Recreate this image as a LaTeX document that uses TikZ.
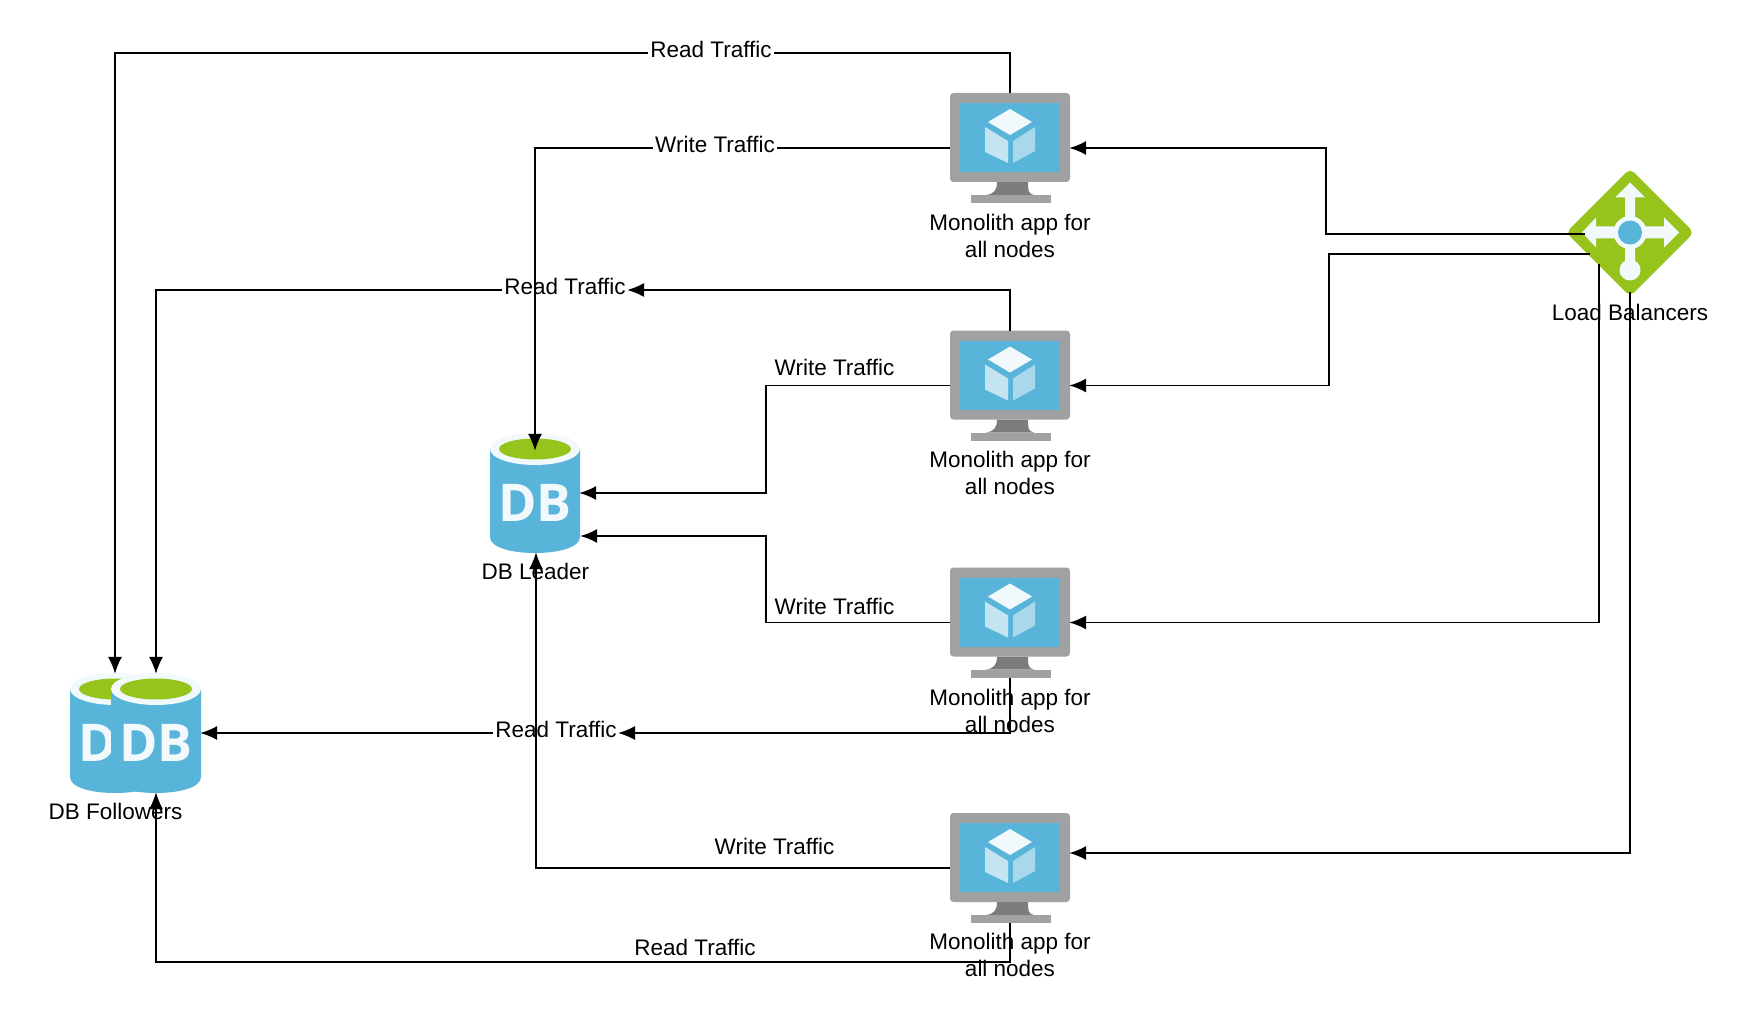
\documentclass[tikz,border=0pt]{standalone}
\usepackage{fontspec}
\setmainfont{Liberation Sans}
\newfontfamily\dbfont{Open Sans}
\usetikzlibrary{arrows.meta}
\definecolor{azblue}{HTML}{59B4D9}
\definecolor{azgreen}{HTML}{96C41C}
\definecolor{azgrey}{HTML}{A0A1A2}
\definecolor{azneck}{HTML}{7C7C7C}
\definecolor{azwhite}{HTML}{F2F9FC}
\definecolor{faceL}{HTML}{C5E4F1}
\definecolor{faceR}{HTML}{A9D8EB}
\tikzset{
  base/.style={font=\fontsize{32}{38.4}\selectfont},
  iconlabel/.style={base,align=center,inner sep=0pt},
  trafficlabel/.style={base,inner ysep=0pt,inner xsep=3pt,text height=25pt,text depth=12pt},
  whitelabel/.style={trafficlabel,fill=white},
  link/.style={draw=black,line width=2.2pt,line join=miter},
  flow/.style={link,-{Latex[length=24pt,width=20pt]},shorten >=-1pt},
  iconbox/.style={inner sep=0pt,outer sep=0pt},
}
\newcommand{\monitoricon}[2]{%
  \node[iconbox,minimum width=6cm,minimum height=5.5cm] (#1) at (#2) {};
  \begin{scope}[shift={(#1.center)}]
    \fill[azneck] (-13,34) .. controls (-13,42) and (-16,46) .. (-24,47) -- (24,47) .. controls (18,46) and (18,42) .. (18,34) -- cycle;
    \fill[azgrey] (-39,47) rectangle (41,55);
    \fill[azgrey,rounded corners=5pt] (-60,-55) rectangle (60,34);
    \fill[azblue] (-50,-45) rectangle (50,24);
    \fill[azwhite] (0,-39) -- (22,-26) -- (0,-13) -- (-22,-26) -- cycle;
    \fill[faceL] (-25,-21) -- (-2,-7) -- (-2,15) -- (-25,4) -- cycle;
    \fill[faceR] (3,-7) -- (25,-21) -- (25,3) -- (3,15) -- cycle;
  \end{scope}
}
\newcommand{\dbicon}[2]{%
  \node[iconbox,minimum width=4.5cm,minimum height=6cm] (#1) at (#2) {};
  \begin{scope}[shift={(#1.center)}]
    \fill[azblue] (-45,-44) -- (-45,44) .. controls (-45,54) and (-25,60) .. (0,60) .. controls (25,60) and (45,54) .. (45,44) -- (45,-44) -- cycle;
    \fill[azwhite] (0,-44) ellipse [x radius=45,y radius=16];
    \fill[azgreen] (0,-44) ellipse [x radius=36,y radius=10.5];
    \node[text=azwhite,inner sep=0pt] at (0,10) {\dbfont\bfseries\fontsize{74}{74}\selectfont DB};
  \end{scope}
}
\begin{document}
\begin{tikzpicture}[x=0.05cm,y=-0.05cm]
\useasboundingbox[fill=white] (0,0) rectangle (1760,1017);

% icons
\dbicon{dbfa}{115,733}
\dbicon{dbfb}{156,733}
\dbicon{dbl}{535,493}
\monitoricon{ma}{1010,148}
\monitoricon{mb}{1010,385.5}
\monitoricon{mc}{1010,622.5}
\monitoricon{md}{1010,868}

% load balancer
\node[iconbox,minimum width=6cm,minimum height=6cm] (lb) at (1630,232.5) {};
\begin{scope}[shift={(lb.center)}]
  \fill[azgreen,rounded corners=8pt] (0,-64) -- (64,0) -- (0,64) -- (-64,0) -- cycle;
  \fill[azwhite] (0,-50) -- (15,-35) -- (5,-35) -- (5,-6) -- (34,-6) -- (34,-15) -- (49,0) -- (34,15) -- (34,6) -- (5,6) -- (5,38) -- (-5,38) -- (-5,6) -- (-34,6) -- (-34,15) -- (-48,0) -- (-34,-15) -- (-34,-6) -- (-5,-6) -- (-5,-35) -- (-15,-35) -- cycle;
  \fill[azwhite] (0,37.5) circle [radius=10.5];
  \fill[azwhite] (0,0) circle [radius=16.5];
  \fill[azblue] (0,0) circle [radius=12];
\end{scope}

% texts
\node[iconlabel] (ta) at (1010,236) {Monolith app for\\all nodes};
\node[iconlabel] (tb) at (1010,473) {Monolith app for\\all nodes};
\node[iconlabel] (tc) at (1010,711) {Monolith app for\\all nodes};
\node[iconlabel] (td) at (1010,955) {Monolith app for\\all nodes};
\node[iconlabel] (tlb) at (1630,312) {Load Balancers};
\node[iconlabel] (tdbl) at (535.5,571) {DB Leader};
\node[iconlabel] (tdbf) at (115.5,811) {DB Followers};

% free ends
\coordinate (dbltop) at (535,450);
\coordinate (dblin) at (581,536);
\coordinate (dblbot) at (536,553);
\coordinate (mdin) at (1070,853);
\coordinate (lba) at (1585,234);
\coordinate (lbb) at (1590,254);
\coordinate (lbc) at (1599,264);

% read traffic
\node[whitelabel] (ra) at (711,53) {Read Traffic};
\draw[link] (ma.north) |- (ra.east);
\draw[flow] (ra.west) -| (dbfa.north);

\node[whitelabel] (rb) at (565,290) {Read Traffic};
\draw[flow] (mb.north) |- (rb.east);
\draw[flow] (rb.west) -| (dbfb.north);

\node[whitelabel] (rc) at (556,733) {Read Traffic};
\draw[flow] (mc.south) |- (rc.east);
\draw[flow] (rc.west) -- (dbfb.east);

\node[trafficlabel] (rd) at (695,951) {Read Traffic};
\draw[flow] (md.south) -- ++(0,39) -| (dbfb.south);

% write traffic
\node[whitelabel] (wa) at (715,148) {Write Traffic};
\draw[link] (ma.west) -- (wa.east);
\draw[flow] (wa.west) -| (dbltop);

\node[trafficlabel] (wb) at (834.5,371) {Write Traffic};
\draw[flow] (mb.west) -- (766,385.5) |- (dbl.east);

\node[trafficlabel] (wc) at (834.5,610) {Write Traffic};
\draw[flow] (mc.west) -- (766,622.5) |- (dblin);

\node[trafficlabel] (wd) at (774.5,850) {Write Traffic};
\draw[flow] (md.west) -| (dblbot);

% load balancer links
\draw[flow] (lba) -- (1326,234) |- (ma.east);
\draw[flow] (lbb) -- (1329,254) |- (mb.east);
\draw[flow] (lbc) |- (mc.east);
\draw[flow] (lb.south) |- (mdin);
\end{tikzpicture}
\end{document}
